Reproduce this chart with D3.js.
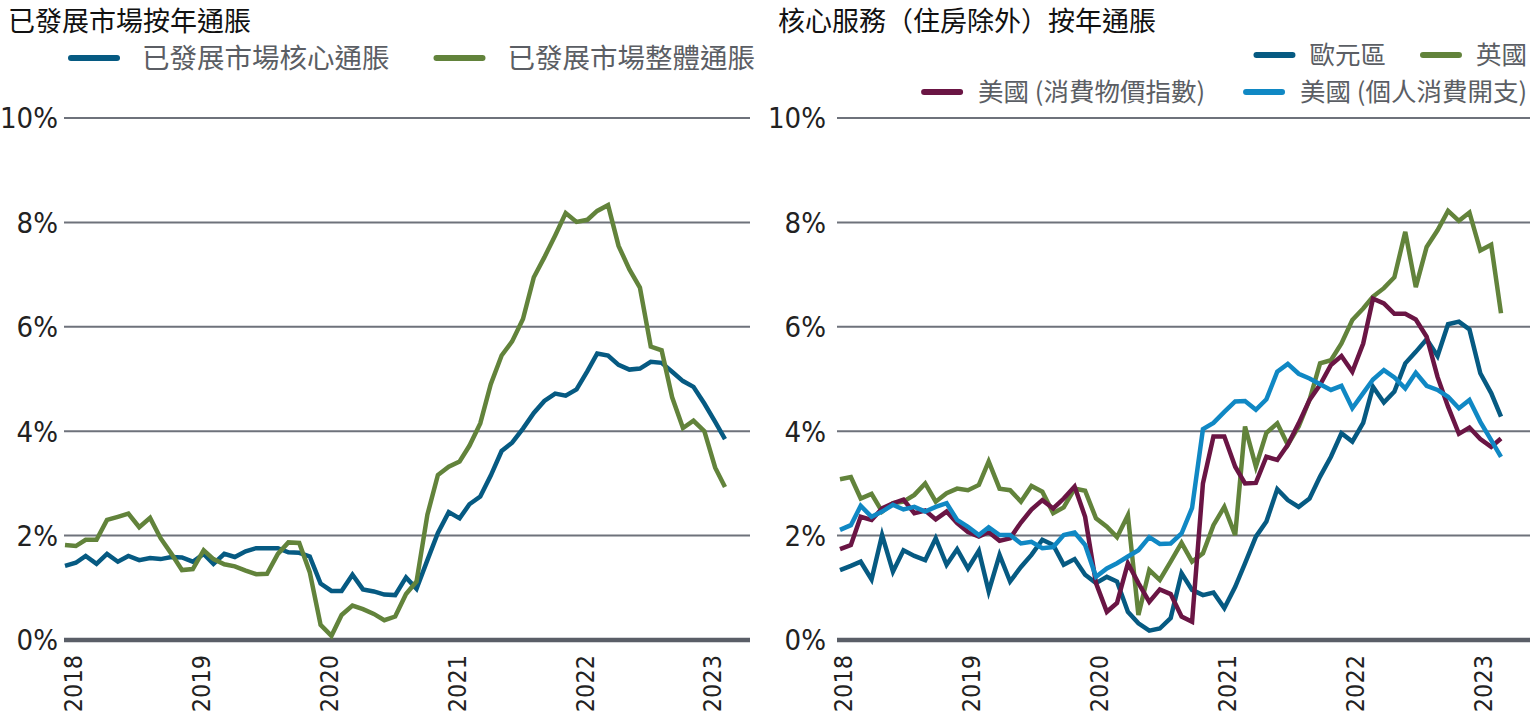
<!DOCTYPE html>
<html>
<head>
<meta charset="utf-8">
<script src="https://cdn.jsdelivr.net/npm/d3@7"></script>
<style>
  body { margin: 0; background: #fff; }
  text { font-family: "Noto Sans CJK TC", "Noto Sans", sans-serif; }
  .num { font-family: "Liberation Sans Narrow", "DejaVu Sans Condensed", sans-serif; }
</style>
</head>
<body>
<div id="chart"></div>
<script>
var width = 1532; // ancho
var height = 720; // alto

// meses: ene 2018 - mar 2023
var months = d3.timeMonth.range(new Date(2018, 0, 1), new Date(2023, 3, 1));
var yTicks = [0, 2, 4, 6, 8, 10];
var yearTicks = [2018, 2019, 2020, 2021, 2022, 2023];

// panel izquierdo
var dmCore = [1.42,1.48,1.61,1.46,1.65,1.50,1.61,1.53,1.57,1.55,
  1.59,1.58,1.50,1.65,1.46,1.65,1.59,1.70,1.76,1.76,
  1.76,1.68,1.67,1.60,1.08,0.94,0.94,1.25,0.97,0.93,
  0.87,0.86,1.20,0.98,1.53,2.05,2.45,2.33,2.60,2.75,
  3.15,3.62,3.78,4.05,4.35,4.58,4.72,4.68,4.80,5.15,
  5.49,5.45,5.27,5.18,5.20,5.33,5.31,5.14,4.96,4.85,
  4.53,4.18,3.85];
var dmHeadline = [1.82,1.80,1.92,1.92,2.30,2.36,2.42,2.16,2.34,1.95,
  1.65,1.34,1.36,1.72,1.55,1.45,1.41,1.33,1.26,1.27,
  1.65,1.87,1.86,1.30,0.29,0.08,0.48,0.66,0.59,0.50,
  0.38,0.45,0.88,1.12,2.40,3.16,3.32,3.42,3.72,4.15,
  4.90,5.45,5.72,6.15,6.95,7.33,7.75,8.18,8.01,8.05,
  8.22,8.33,7.55,7.10,6.75,5.62,5.55,4.65,4.06,4.20,
  4.00,3.30,2.93];

// panel derecho
var euroArea = [1.34,1.42,1.50,1.16,2.01,1.31,1.72,1.61,1.53,1.95,
  1.44,1.74,1.37,1.71,0.93,1.63,1.12,1.40,1.63,1.92,
  1.82,1.44,1.55,1.25,1.09,1.21,1.12,0.54,0.32,0.18,
  0.22,0.42,1.28,0.96,0.86,0.91,0.61,1.02,1.47,1.98,
  2.27,2.89,2.68,2.55,2.71,3.13,3.51,3.96,3.80,4.16,
  4.85,4.55,4.76,5.30,5.52,5.76,5.44,6.05,6.10,5.95,
  5.11,4.73,4.28];
var ukServices = [3.08,3.12,2.71,2.80,2.46,2.62,2.65,2.78,3.00,2.65,
  2.81,2.90,2.87,2.97,3.42,2.90,2.87,2.65,2.95,2.84,
  2.43,2.54,2.90,2.86,2.33,2.17,1.97,2.39,0.48,1.34,
  1.15,1.50,1.86,1.50,1.66,2.20,2.55,2.01,4.09,3.32,
  3.97,4.15,3.74,4.09,4.60,5.30,5.36,5.68,6.13,6.35,
  6.58,6.74,6.95,7.82,6.76,7.53,7.85,8.22,8.03,8.19,
  7.46,7.57,6.26];
var usCpi = [1.74,1.82,2.36,2.30,2.52,2.62,2.69,2.43,2.48,2.31,
  2.46,2.24,2.07,1.98,2.07,1.90,1.95,2.25,2.50,2.68,
  2.52,2.71,2.94,2.36,1.09,0.54,0.71,1.47,1.09,0.73,
  0.97,0.88,0.45,0.35,3.00,3.90,3.90,3.32,3.00,3.01,
  3.51,3.45,3.74,4.15,4.60,4.89,5.27,5.44,5.14,5.68,
  6.54,6.45,6.25,6.25,6.14,5.81,5.04,4.47,3.95,4.07,
  3.85,3.70,3.86];
var usPce = [2.11,2.20,2.57,2.36,2.46,2.59,2.50,2.55,2.46,2.55,
  2.62,2.30,2.17,2.01,2.16,2.01,2.01,1.85,1.88,1.76,
  1.78,2.01,2.06,1.82,1.21,1.37,1.47,1.60,1.72,1.97,
  1.84,1.85,2.04,2.53,4.04,4.16,4.37,4.57,4.58,4.41,
  4.61,5.14,5.29,5.10,5.01,4.90,4.79,4.87,4.44,4.73,
  4.99,5.17,5.03,4.82,5.12,4.87,4.79,4.66,4.44,4.60,
  4.18,3.83,3.51];

var darkBlue = "#065a82";
var green = "#62833b";
var maroon = "#6a1544";
var lightBlue = "#1088c4";

var svg = d3.select("#chart")
  .append("svg")
  .attr("width", width)
  .attr("height", height);

var y = d3.scaleLinear().domain([0, 10]).range([640, 118]);

function drawPanel(p) {
  var x = d3.scaleTime()
    .domain([months[0], months[months.length - 1]])
    .range([p.x0, p.x1]);

  var g = svg.append("g");

  // titulo
  g.append("text")
    .attr("x", p.titleX)
    .attr("y", 31)
    .attr("font-size", 27)
    .attr("fill", "#111")
    .text(p.title);

  // lineas de la cuadricula
  g.selectAll(".grid")
    .data(yTicks)
    .enter()
    .append("line")
    .attr("x1", p.gx0)
    .attr("x2", p.gx1)
    .attr("y1", (d) => y(d))
    .attr("y2", (d) => y(d))
    .attr("stroke", (d) => d === 0 ? "#5a5e67" : "#6e727b")
    .attr("stroke-width", (d) => d === 0 ? 4.5 : 2);

  g.selectAll(".ylab")
    .data(yTicks)
    .enter()
    .append("text")
    .attr("class", "num")
    .attr("x", p.labelX)
    .attr("y", (d) => y(d))
    .attr("dy", "0.36em")
    .attr("text-anchor", "end")
    .attr("font-size", 29)
    .attr("fill", "#222")
    .text((d) => d + "%");

  g.selectAll(".xlab")
    .data(yearTicks)
    .enter()
    .append("text")
    .attr("class", "num")
    .attr("transform", (d) => "translate(" + (x(new Date(d, 0, 1)) + p.yearOffset) + ",655) rotate(-90)")
    .attr("dy", "0.36em")
    .attr("text-anchor", "end")
    .attr("font-size", 25)
    .attr("fill", "#222")
    .text((d) => d);

  var line = d3.line()
    .x((d, i) => x(months[i]))
    .y((d) => y(d));

  p.series.forEach(function (s) {
    g.append("path")
      .datum(s.values)
      .attr("d", line)
      .attr("fill", "none")
      .attr("stroke", s.color)
      .attr("stroke-width", 4.5);
  });
}

function drawLegend(rows) {
  rows.forEach(function (row) {
    var g = svg.append("g");
    var items = row.items.map(function (it) {
      var t = g.append("text")
        .attr("y", row.y)
        .attr("dy", "0.36em")
        .attr("font-size", row.fontSize)
        .attr("fill", "#5b5e64")
        .text(it.name);
      return { it: it, t: t, w: t.node().getComputedTextLength() };
    });
    var total = d3.sum(items, (d) => row.lineLen + row.gap + d.w) + row.itemGap * (items.length - 1);
    var cx = row.align === "right" ? row.x - total : row.x;
    items.forEach(function (d) {
      g.append("line")
        .attr("x1", cx + 3)
        .attr("x2", cx + row.lineLen - 3)
        .attr("y1", row.y)
        .attr("y2", row.y)
        .attr("stroke", d.it.color)
        .attr("stroke-width", 6)
        .attr("stroke-linecap", "round");
      d.t.attr("x", cx + row.lineLen + row.gap);
      cx += row.lineLen + row.gap + d.w + row.itemGap;
    });
  });
}

drawPanel({
  title: "已發展市場按年通脹", titleX: 8,
  x0: 65, x1: 725, gx0: 64, gx1: 750, labelX: 58, yearOffset: 8,
  series: [
    { values: dmCore, color: darkBlue },
    { values: dmHeadline, color: green }
  ]
});

drawPanel({
  title: "核心服務（住房除外）按年通脹", titleX: 778,
  x0: 840, x1: 1501, gx0: 837, gx1: 1530, labelX: 826, yearOffset: 3,
  series: [
    { values: euroArea, color: darkBlue },
    { values: ukServices, color: green },
    { values: usCpi, color: maroon },
    { values: usPce, color: lightBlue }
  ]
});

drawLegend([
  { y: 58, x: 68, align: "left", fontSize: 27.5, lineLen: 52, gap: 22, itemGap: 44,
    items: [{ name: "已發展市場核心通脹", color: darkBlue }, { name: "已發展市場整體通脹", color: green }] },
  { y: 55, x: 1527, align: "right", fontSize: 25.5, lineLen: 42, gap: 14, itemGap: 34,
    items: [{ name: "歐元區", color: darkBlue }, { name: "英國", color: green }] },
  { y: 92, x: 1527, align: "right", fontSize: 25.5, lineLen: 42, gap: 15, itemGap: 38,
    items: [{ name: "美國 (消費物價指數)", color: maroon }, { name: "美國 (個人消費開支)", color: lightBlue }] }
]);
</script>
</body>
</html>
